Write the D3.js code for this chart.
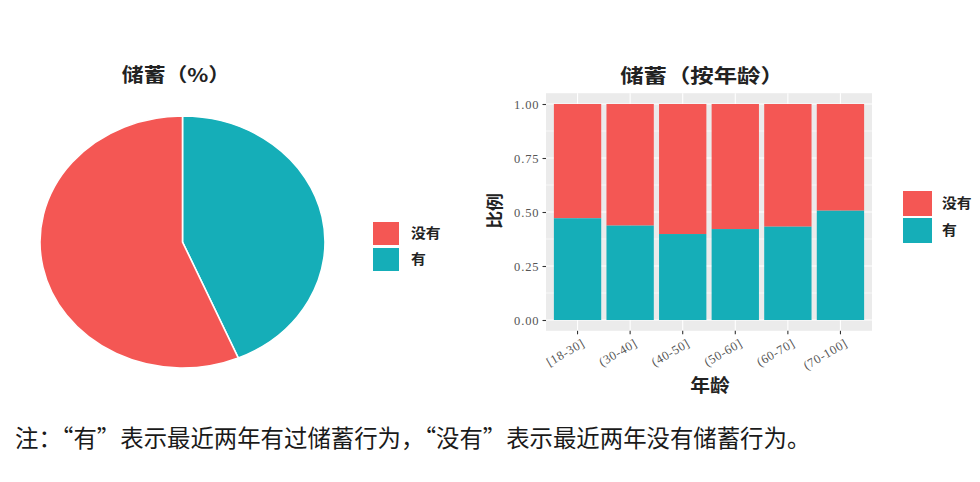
<!DOCTYPE html>
<html><head><meta charset="utf-8">
<script src="https://cdn.jsdelivr.net/npm/d3@7/dist/d3.min.js"></script>
<style>
html,body{margin:0;padding:0;background:#fff;}
svg{display:block;}
</style></head>
<body>
<svg id="c" width="980" height="482"></svg>
<script>
// ---- data ----
const legendLabels = ["没有", "有"];
const pieShares = [0.436, 0.564];            // 有, 没有
const pieLabels = ["有", "没有"];
const ageGroups = ["[18-30]", "(30-40]", "(40-50]", "(50-60]", "(60-70]", "(70-100]"];
const haveSavings = [0.471, 0.437, 0.398, 0.421, 0.432, 0.506];
const yTicks = [0, 0.25, 0.5, 0.75, 1.0];
const pieTitle = "储蓄（%）";
const barTitle = "储蓄（按年龄）";
const yTitle = "比例";
const xTitle = "年龄";
const note = "注：“有”表示最近两年有过储蓄行为，“没有”表示最近两年没有储蓄行为。";

const colRed = "#F45754", colTeal = "#15AEB8";
const colorOf = {"没有": colRed, "有": colTeal};
const cjk = "'Noto Sans CJK SC', sans-serif";
const serif = "'Liberation Serif', 'DejaVu Serif', serif";

const svg = d3.select("#c");

function label(txt, x, y, size, sx, opts = {}) {
  return svg.append("text")
    .attr("transform", `translate(${x},${y}) ${opts.rotate ? "rotate(" + opts.rotate + ")" : ""} scale(${sx},1)`)
    .attr("text-anchor", opts.anchor || "middle")
    .style("font-family", opts.font || cjk)
    .style("font-weight", opts.weight || "bold")
    .style("font-size", size + "px")
    .attr("fill", opts.fill || "#222")
    .text(txt);
}

// ---- pie ----
const rx = 142.5, ry = 126;
const pg = svg.append("g").attr("transform", `translate(182.5,242) scale(${rx/ry},1)`);
const pie = d3.pie().sort(null).startAngle(0).endAngle(2*Math.PI);
const arc = d3.arc().innerRadius(0).outerRadius(ry);
pg.selectAll("path").data(pie(pieShares)).join("path")
  .attr("d", arc)
  .attr("fill", (d,i) => colorOf[pieLabels[i]])
  .attr("stroke", "#fff").attr("stroke-width", 1.6)
  .attr("vector-effect", "non-scaling-stroke");

label(pieTitle, 176, 82, 19, 1.15);

function legend(x, y0, gap, w, h, tx) {
  const g = svg.append("g");
  legendLabels.forEach((lab, i) => {
    const y = y0 + i*gap;
    g.append("rect").attr("x", x).attr("y", y).attr("width", w).attr("height", h)
      .attr("fill", colorOf[lab]);
    g.append("text").attr("transform", `translate(${tx},${y + h/2}) scale(1.1,1)`).attr("dy", "0.35em")
      .style("font-family", cjk).style("font-weight", "bold").style("font-size", "13.5px")
      .attr("fill", "#222").text(lab);
  });
}
legend(373, 222, 26, 26, 23, 411);

// ---- stacked bar ----
const px0 = 546, px1 = 872, py0 = 93.2, py1 = 330.8;
const x = d3.scaleBand().domain(ageGroups).range([px0, px1]).paddingInner(0.1).paddingOuter(0.15);
const y = d3.scaleLinear().domain([-0.05, 1.05]).range([py1, py0]);

svg.append("rect").attr("x", px0).attr("y", py0).attr("width", px1-px0).attr("height", py1-py0)
  .attr("fill", "#EBEBEB");
const minor = [0.125, 0.375, 0.625, 0.875];
svg.append("g").selectAll("line").data(minor).join("line")
  .attr("x1", px0).attr("x2", px1).attr("y1", d => y(d)).attr("y2", d => y(d))
  .attr("stroke", "#fff").attr("stroke-width", 0.6);
svg.append("g").selectAll("line").data(yTicks).join("line")
  .attr("x1", px0).attr("x2", px1).attr("y1", d => y(d)).attr("y2", d => y(d))
  .attr("stroke", "#fff").attr("stroke-width", 1.1);
svg.append("g").selectAll("line").data(ageGroups).join("line")
  .attr("x1", d => x(d) + x.bandwidth()/2).attr("x2", d => x(d) + x.bandwidth()/2)
  .attr("y1", py0).attr("y2", py1)
  .attr("stroke", "#fff").attr("stroke-width", 1.1);

const bars = svg.append("g");
ageGroups.forEach((g, i) => {
  const v = haveSavings[i];
  bars.append("rect").attr("x", x(g)).attr("width", x.bandwidth())
    .attr("y", y(1)).attr("height", y(v) - y(1)).attr("fill", colorOf["没有"]);
  bars.append("rect").attr("x", x(g)).attr("width", x.bandwidth())
    .attr("y", y(v)).attr("height", y(0) - y(v)).attr("fill", colorOf["有"]);
});

// y axis
const ya = svg.append("g").attr("transform", `translate(${px0},0)`)
  .call(d3.axisLeft(y).tickValues(yTicks).tickFormat(d3.format(".2f")).tickSize(3.5).tickPadding(3));
ya.select(".domain").remove();
ya.selectAll(".tick line").attr("stroke", "#333").attr("stroke-width", 1.1);
ya.selectAll(".tick text").style("font-family", serif).style("font-size", "12.5px")
  .style("letter-spacing", "0.9px").attr("fill", "#555");

// x axis
const xa = svg.append("g").attr("transform", `translate(0,${py1})`)
  .call(d3.axisBottom(x).tickSize(3.5).tickPadding(3));
xa.select(".domain").remove();
xa.selectAll(".tick line").attr("stroke", "#333").attr("stroke-width", 1.1);
xa.selectAll(".tick text")
  .style("font-family", serif).style("font-size", "12.5px").style("letter-spacing", "0.6px")
  .attr("fill", "#555")
  .attr("text-anchor", "end").attr("dy", null).attr("y", 0)
  .attr("transform", "translate(8,15) rotate(-30)");

label(barTitle, 702, 83, 19.5, 1.2);
label(yTitle, 501, 211, 17, 1.05, {rotate: -90});
label(xTitle, 710, 392, 18, 1.1);

legend(903, 191, 27, 29, 25, 942);

// note
svg.append("text").attr("x", 15).attr("y", 447)
  .style("font-family", cjk).style("font-size", "23.4px").attr("fill", "#1a1a1a").text(note);
</script>
</body></html>
